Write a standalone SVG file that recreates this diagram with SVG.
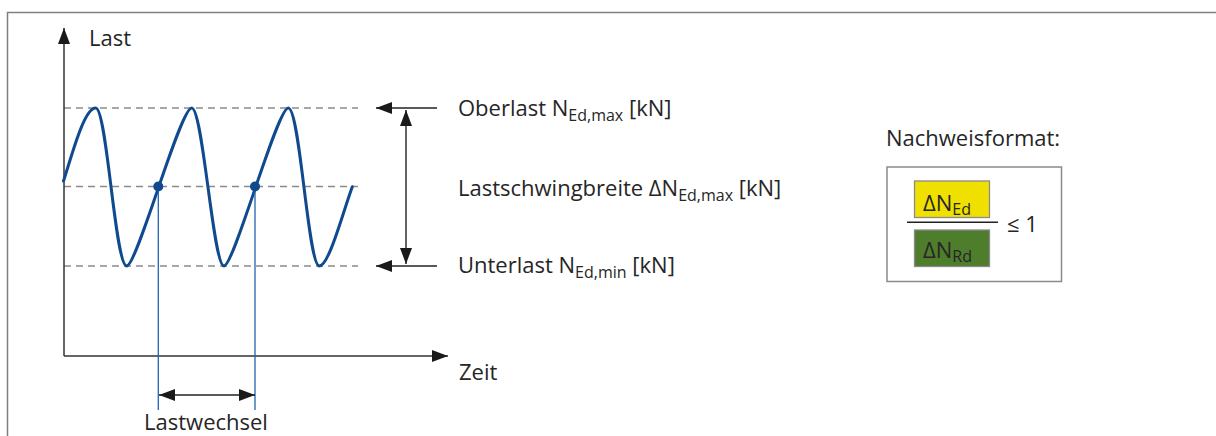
<svg xmlns="http://www.w3.org/2000/svg" width="1216" height="436" viewBox="0 0 1216 436">
  <style>
    .txt { font-family: "Open Sans", "Noto Sans", "Liberation Sans", sans-serif; font-size: 22px; fill: #262626; }
    .sub { font-size: 16px; }
    .axis { stroke: #333; stroke-width: 1.5; fill: none; }
    .guide { stroke: #8a8a8a; stroke-width: 1.3; stroke-dasharray: 7 5; fill: none; }
    .dim { stroke: #222; stroke-width: 1.4; fill: none; }
    .mark { stroke: #1f64b0; stroke-width: 1.3; fill: none; }
    .wave { stroke: #0f4a8e; stroke-width: 3; fill: none; stroke-linejoin: round; stroke-linecap: round; }
    .frame { stroke: #808080; stroke-width: 1.5; fill: none; }
  </style>
  <defs>
    <marker id="arrow" markerUnits="userSpaceOnUse" markerWidth="16" markerHeight="12" refX="16" refY="6" orient="auto-start-reverse">
      <path d="M0,0 L16,6 L0,12 Z" fill="#1a1a1a"/>
    </marker>
  </defs>

  <!-- outer frame (top and left edges) -->
  <path class="frame" d="M7.5,436 V12.5 H1216"/>

  <!-- load-time chart -->
  <g id="chart">
    <line class="guide" x1="64" y1="108" x2="358" y2="108"/>
    <line class="guide" x1="64" y1="186.5" x2="358" y2="186.5"/>
    <line class="guide" x1="64" y1="266" x2="358" y2="266"/>
    <path class="axis" d="M64,356 V28" marker-end="url(#arrow)"/>
    <path class="axis" d="M64,356 H448" marker-end="url(#arrow)"/>
    <path class="wave" d="M63.5,181 C72,155 84,108 95.7,108 C107,108 115,266 126.7,266 C137,266 180,108 191.7,108 C203,108 213,266 224,266 C234,266 277,108 288.3,108 C300,108 308,266 319.3,266 C329,266 343,212 352.3,186.7"/>
    <line class="mark" x1="158.3" y1="186.5" x2="158.3" y2="410"/>
    <line class="mark" x1="255" y1="186.5" x2="255" y2="410"/>
    <circle cx="158.3" cy="186.5" r="5" fill="#0f4a8e"/>
    <circle cx="255" cy="186.5" r="5" fill="#0f4a8e"/>
    <text class="txt" x="89" y="46">Last</text>
    <text class="txt" x="459" y="380">Zeit</text>
  </g>

  <!-- dimension arrows -->
  <g id="connectors">
    <line class="dim" x1="437" y1="108" x2="376" y2="108" marker-end="url(#arrow)"/>
    <line class="dim" x1="437" y1="266" x2="376" y2="266" marker-end="url(#arrow)"/>
    <line class="dim" x1="406" y1="110" x2="406" y2="264" marker-start="url(#arrow)" marker-end="url(#arrow)"/>
    <line class="dim" x1="159" y1="395" x2="255" y2="395" marker-start="url(#arrow)" marker-end="url(#arrow)"/>
  </g>

  <g id="label-cycle">
    <text class="txt" x="206" y="430" text-anchor="middle">Lastwechsel</text>
  </g>

  <g id="label-upper">
    <text class="txt" x="458" y="116">Oberlast N<tspan class="sub" dy="5">Ed,max</tspan><tspan dy="-5"> [kN]</tspan></text>
  </g>
  <g id="label-range">
    <text class="txt" x="458" y="196">Lastschwingbreite ΔN<tspan class="sub" dy="5">Ed,max</tspan><tspan dy="-5"> [kN]</tspan></text>
  </g>
  <g id="label-lower">
    <text class="txt" x="458" y="273">Unterlast N<tspan class="sub" dy="5">Ed,min</tspan><tspan dy="-5"> [kN]</tspan></text>
  </g>

  <!-- verification format -->
  <g id="verification">
    <text class="txt" x="886" y="146">Nachweisformat:</text>
    <rect x="887" y="167" width="174.5" height="114.5" fill="#fff" stroke="#8a8a8a" stroke-width="1.5"/>
    <rect x="914.5" y="181" width="75" height="36.5" fill="#f0e000" stroke="#8a8a8a" stroke-width="1.3"/>
    <rect x="914.5" y="230" width="75" height="36.5" fill="#4e7d2b" stroke="#8a8a8a" stroke-width="1.3"/>
    <line x1="907" y1="222.3" x2="998" y2="222.3" stroke="#222" stroke-width="1.4"/>
    <text class="txt" x="923" y="211">ΔN<tspan class="sub" dy="4">Ed</tspan></text>
    <text class="txt" x="923" y="258">ΔN<tspan class="sub" dy="4">Rd</tspan></text>
    <text class="txt" x="1007" y="232">≤ 1</text>
  </g>
</svg>
